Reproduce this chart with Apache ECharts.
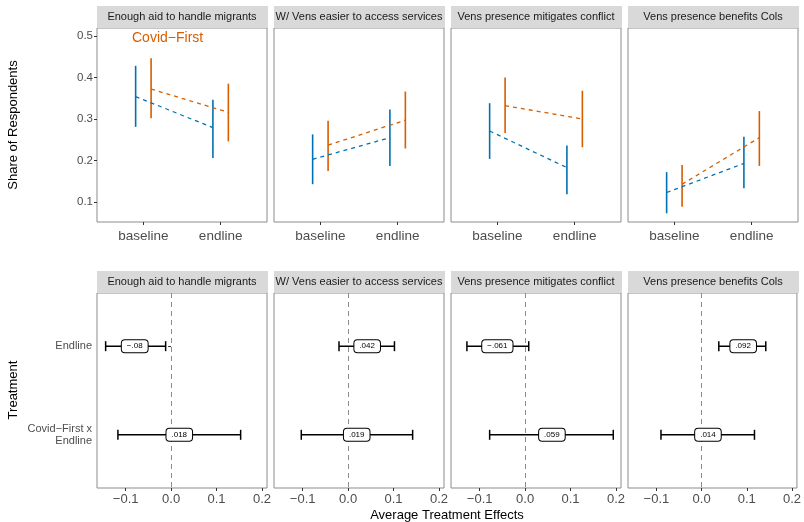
<!DOCTYPE html>
<html><head><meta charset="utf-8">
<script src="https://cdn.jsdelivr.net/npm/echarts@6/dist/echarts.min.js"></script>
<style>html,body{margin:0;padding:0;background:#fff}#c{width:804px;height:522px}</style>
</head><body><div id="c"></div>
<script>
// ---------- data ----------
const PANELS = ['Enough aid to handle migrants', 'W/ Vens easier to access services', 'Vens presence mitigates conflict', 'Vens presence benefits Cols'];
const WAVES = ['baseline', 'endline'];
const Y_TICKS = [0.1, 0.2, 0.3, 0.4, 0.5];
const X_TICKS = [-0.1, 0.0, 0.1, 0.2];
// top row: [baseline, endline] per panel
const controlMean = [[0.354, 0.279], [0.203, 0.255], [0.271, 0.183], [0.123, 0.193]];
const controlLo   = [[0.281, 0.206], [0.143, 0.187], [0.204, 0.119], [0.073, 0.133]];
const controlHi   = [[0.428, 0.346], [0.263, 0.323], [0.338, 0.236], [0.172, 0.257]];
const covidMean   = [[0.372, 0.316], [0.237, 0.297], [0.332, 0.300], [0.143, 0.255]];
const covidLo     = [[0.302, 0.246], [0.175, 0.229], [0.266, 0.232], [0.089, 0.187]];
const covidHi     = [[0.446, 0.385], [0.296, 0.366], [0.400, 0.368], [0.189, 0.319]];
// bottom row: [Endline, Covid-First x Endline] per panel
const TREATMENTS = ['Endline', 'Covid\u2212First x\nEndline'];
const ateEst   = [[-0.080, 0.018], [0.042, 0.019], [-0.061, 0.059], [0.092, 0.014]];
const ateLo    = [[-0.144, -0.117], [-0.020, -0.103], [-0.128, -0.078], [0.038, -0.090]];
const ateHi    = [[-0.012, 0.153], [0.102, 0.142], [0.008, 0.194], [0.142, 0.117]];
const ateLabel = [['\u2212.08', '.018'], ['.042', '.019'], ['\u2212.061', '.059'], ['.092', '.014']];

// ---------- layout ----------
const BLUE = '#0072B2', ORANGE = '#D55E00';
const PANEL_LEFT = [97, 274, 451, 628];
const PANEL_W = 170;
const TOP_Y = 28, TOP_H = 194, BOT_Y = 293, BOT_H = 195;
const DODGE = 0.1;
const FONT = 'Liberation Sans, Arial, sans-serif';

const chart = echarts.init(document.getElementById('c'), null, {renderer: 'canvas'});
const grids = [], xAxes = [], yAxes = [], series = [], graphics = [];

function fmtNum(v) { const s = Math.abs(v).toFixed(1); return (v < -1e-9 ? '\u2212' : '') + s; }

PANELS.forEach((name, i) => {
  // ---- top panel ----
  const gi = grids.length;
  grids.push({left: PANEL_LEFT[i], top: TOP_Y, width: PANEL_W, height: TOP_H, show: true, borderColor: '#8c8c8c', borderWidth: 1, backgroundColor: '#fff', containLabel: false});
  xAxes.push({type: 'value', gridIndex: gi, min: 0.4, max: 2.6, splitLine: {show: false}, axisLine: {show: false},
    axisTick: {show: true, customValues: [1, 2], length: 3, lineStyle: {color: '#333'}},
    axisLabel: {customValues: [1, 2], formatter: v => WAVES[Math.round(v) - 1], fontSize: 13.5, color: '#4d4d4d', margin: 7, fontFamily: FONT}});
  yAxes.push({type: 'value', gridIndex: gi, min: 0.052, max: 0.519, splitLine: {show: false}, axisLine: {show: false},
    axisTick: {show: i === 0, customValues: Y_TICKS, length: 3, lineStyle: {color: '#333'}},
    axisLabel: {show: i === 0, customValues: Y_TICKS, formatter: v => v.toFixed(1), fontSize: 11.5, color: '#4d4d4d', margin: 4, fontFamily: FONT}});
  const groups = [
    {mean: controlMean[i], lo: controlLo[i], hi: controlHi[i], off: -DODGE, color: BLUE},
    {mean: covidMean[i], lo: covidLo[i], hi: covidHi[i], off: DODGE, color: ORANGE}
  ];
  groups.forEach(g => {
    series.push({type: 'line', xAxisIndex: gi, yAxisIndex: gi, symbol: 'none', silent: true,
      lineStyle: {color: g.color, width: 1.3, type: [4, 4]},
      data: WAVES.map((w, j) => [j + 1 + g.off, g.mean[j]])});
    series.push({type: 'custom', xAxisIndex: gi, yAxisIndex: gi, silent: true,
      data: WAVES.map((w, j) => [j + 1 + g.off, g.lo[j], g.hi[j]]),
      renderItem: (params, api) => {
        const a = api.coord([api.value(0), api.value(1)]);
        const b = api.coord([api.value(0), api.value(2)]);
        return {type: 'line', shape: {x1: a[0], y1: a[1], x2: b[0], y2: b[1]}, style: {stroke: g.color, lineWidth: 1.6}};
      }});
  });

  // ---- bottom panel ----
  const bi = grids.length;
  grids.push({left: PANEL_LEFT[i], top: BOT_Y, width: PANEL_W, height: BOT_H, show: true, borderColor: '#8c8c8c', borderWidth: 1, backgroundColor: '#fff', containLabel: false});
  xAxes.push({type: 'value', gridIndex: bi, min: -0.163, max: 0.211, splitLine: {show: false}, axisLine: {show: false},
    axisTick: {show: true, customValues: X_TICKS, length: 3, lineStyle: {color: '#333'}},
    axisLabel: {customValues: X_TICKS, formatter: fmtNum, fontSize: 13, color: '#4d4d4d', margin: 5, fontFamily: FONT}});
  yAxes.push({type: 'value', gridIndex: bi, inverse: true, min: 0.4, max: 2.6, splitLine: {show: false}, axisLine: {show: false},
    axisTick: {show: i === 0, customValues: [1, 2], length: 3, lineStyle: {color: '#333'}},
    axisLabel: {show: i === 0, customValues: [1, 2], formatter: v => TREATMENTS[Math.round(v) - 1], fontSize: 11, lineHeight: 12, color: '#4d4d4d', margin: 5, fontFamily: FONT}});
  series.push({type: 'line', xAxisIndex: bi, yAxisIndex: bi, data: [], symbol: 'none', silent: true,
    markLine: {silent: true, symbol: 'none', label: {show: false}, lineStyle: {color: '#8c8c8c', type: [5, 4], width: 1}, data: [{xAxis: 0}]}});
  series.push({type: 'custom', xAxisIndex: bi, yAxisIndex: bi, silent: true, z: 5,
    data: TREATMENTS.map((t, j) => [ateEst[i][j], j + 1, ateLo[i][j], ateHi[i][j]]),
    renderItem: (params, api) => {
      const row = api.value(1);
      const c = api.coord([api.value(0), row]);
      const a = api.coord([api.value(2), row]);
      const b = api.coord([api.value(3), row]);
      const lbl = ateLabel[i][params.dataIndex];
      const st = {stroke: '#000', lineWidth: 1.5};
      return {type: 'group', children: [
        {type: 'line', shape: {x1: a[0], y1: c[1], x2: b[0], y2: c[1]}, style: st},
        {type: 'line', shape: {x1: a[0], y1: c[1] - 5, x2: a[0], y2: c[1] + 5}, style: st},
        {type: 'line', shape: {x1: b[0], y1: c[1] - 5, x2: b[0], y2: c[1] + 5}, style: st},
        {type: 'text', x: c[0], y: c[1], style: {text: lbl, align: 'center', verticalAlign: 'middle', fontSize: 8, fontFamily: FONT, fill: '#000',
          backgroundColor: '#fff', borderColor: '#000', borderWidth: 1, borderRadius: 3, padding: [2, 5, 2, 5]}}
      ]};
    }});

  // ---- strips ----
  [TOP_Y - 22, BOT_Y - 22].forEach(sy => {
    graphics.push({type: 'rect', left: PANEL_LEFT[i], top: sy, shape: {width: PANEL_W + 1, height: 22}, style: {fill: '#d9d9d9'}, z: 10});
    graphics.push({type: 'text', x: PANEL_LEFT[i] + PANEL_W / 2, y: sy + 11, style: {text: name, align: 'center', verticalAlign: 'middle', fontSize: 11, fontFamily: FONT, fill: '#1a1a1a'}, z: 11});
  });
});
// white gaps to clip strip text
[267, 444, 621].forEach(x => {
  [TOP_Y - 22, BOT_Y - 22].forEach(sy => {
    graphics.push({type: 'rect', left: x + 1, top: sy, shape: {width: 6, height: 22}, style: {fill: '#fff'}, z: 12});
  });
});
// annotation & axis titles
graphics.push({type: 'text', x: 132, y: 38, style: {text: 'Covid\u2212First', align: 'left', verticalAlign: 'middle', fontSize: 14, fontFamily: FONT, fill: ORANGE}, z: 20});
graphics.push({type: 'text', x: 13, y: 125, rotation: Math.PI / 2, style: {text: 'Share of Respondents', align: 'center', verticalAlign: 'middle', fontSize: 13, fontFamily: FONT, fill: '#000'}, z: 20});
graphics.push({type: 'text', x: 13, y: 390, rotation: Math.PI / 2, style: {text: 'Treatment', align: 'center', verticalAlign: 'middle', fontSize: 13, fontFamily: FONT, fill: '#000'}, z: 20});
graphics.push({type: 'text', x: 447, y: 515, style: {text: 'Average Treatment Effects', align: 'center', verticalAlign: 'middle', fontSize: 13, fontFamily: FONT, fill: '#000'}, z: 20});

chart.setOption({animation: false, backgroundColor: '#fff', grid: grids, xAxis: xAxes, yAxis: yAxes, series: series, graphic: graphics});
</script></body></html>
